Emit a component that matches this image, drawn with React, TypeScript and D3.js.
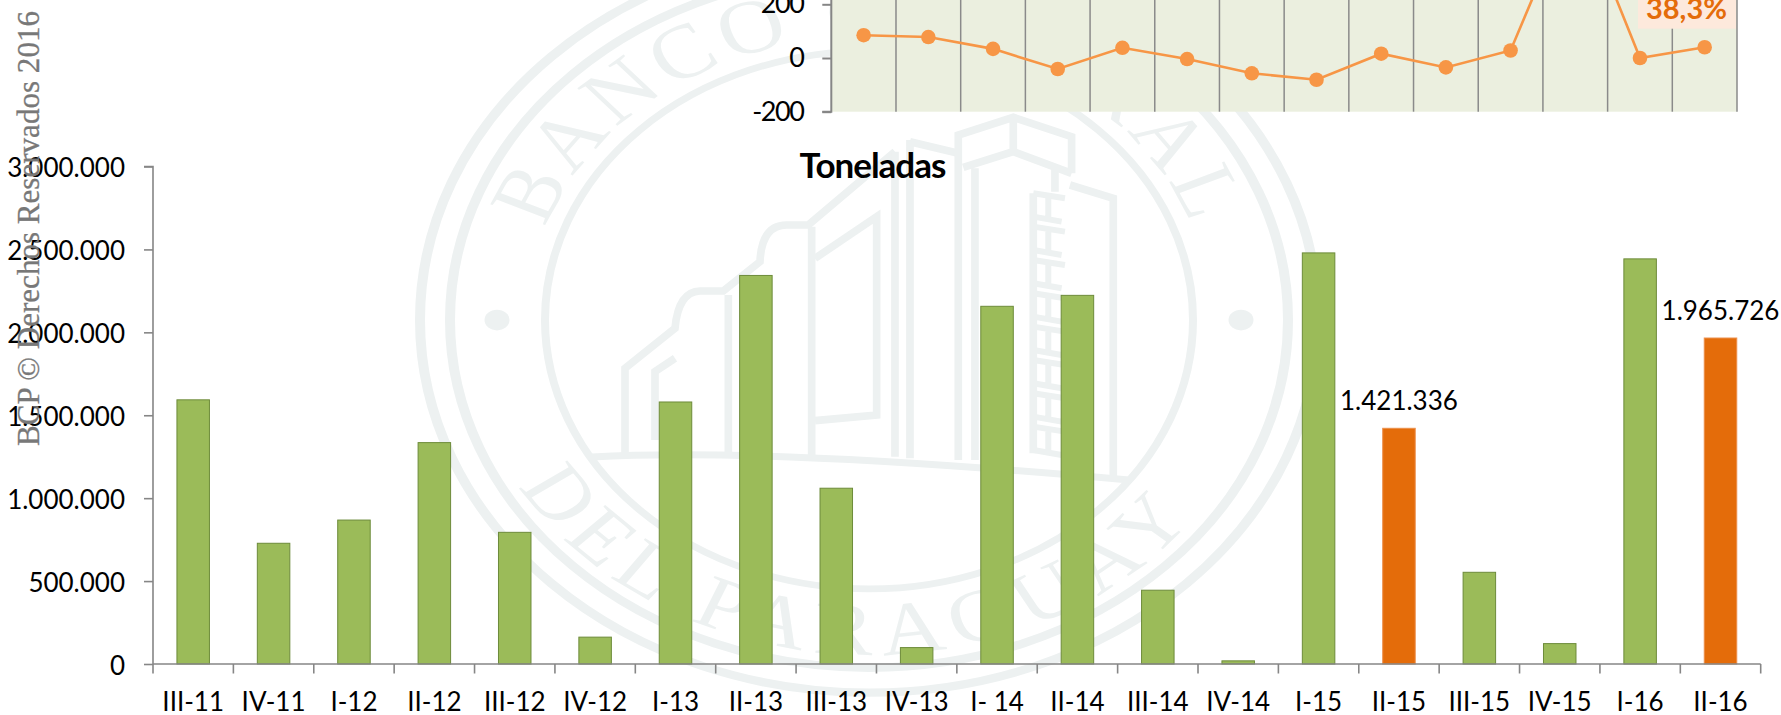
import React, { useEffect, useRef } from "react";
import * as d3 from "d3";

const quarters = ["III-11","IV-11","I-12","II-12","III-12","IV-12","I-13","II-13","III-13","IV-13","I- 14","II-14","III-14","IV-14","I-15","II-15","III-15","IV-15","I-16","II-16"];
const tons = [1593000,728000,868000,1335000,794000,162000,1580000,2343000,1060000,99000,2157000,2223000,445000,19000,2479000,1421336,553000,123000,2443000,1965726];
const highlighted = ["II-15","II-16"];
const tonTicks = [0,500000,1000000,1500000,2000000,2500000,3000000];
const variation = [85,78,34,-41,38,-4,-57,-81,16,-35,28,600,0,40];
const variationTicks = [-200,0,200];

const GREEN = "#9bbb59";
const ORANGE = "#e46c0a";
const LINE = "#f79646";
const AXIS = "#868686";
const SEAL = "#edf1f1";
const FONT = "Lato, sans-serif";

const py = d3.formatLocale({ decimal: ",", thousands: ".", grouping: [3], currency: ["", ""] }).format(",d");

// watermark drawn in a crop-sized grid, scaled down by the group transform
const buildingPaths = [
  "M75,1035V775L225,655Q235,545 300,543H370L480,455Q485,345 560,345H625L885,125",
  "M165,990V785L225,745",
  "M385,1035V555",
  "M635,1035V350",
  "M645,445L830,320V915L645,932",
  "M885,125V1040M930,90V1045M930,95L1075,130",
  "M1075,1050V75L1240,22L1415,80V190M1090,172L1240,125L1415,190M1125,175V1050M1240,20V125",
  "M1365,180V245M1410,225L1540,265V1100",
];
const stairSteps = [250,350,450,550,650,750,850,950];

const Seal = () => (
  <g>
    <g transform="translate(869,320) scale(1,0.83)" fill="none" stroke={SEAL}>
      <circle r={449} strokeWidth={10} />
      <circle r={419} strokeWidth={10} />
      <circle r={324} strokeWidth={8} />
      <path id="sealTop" d="M-342,0A342,342 0 0 1 342,0" stroke="none" />
      <path id="sealBottom" d="M-403,0A403,403 0 0 0 403,0" stroke="none" />
      <circle cx={-372} r={12.5} fill={SEAL} stroke="none" />
      <circle cx={372} r={12.5} fill={SEAL} stroke="none" />
      <text fontFamily="'Liberation Serif', serif" fontSize={92} letterSpacing={6} fill={SEAL} stroke="none" textAnchor="middle">
        <textPath href="#sealTop" startOffset="50%">BANCO CENTRAL</textPath>
      </text>
      <text fontFamily="'Liberation Serif', serif" fontSize={90} letterSpacing={11} fill={SEAL} stroke="none" textAnchor="middle">
        <textPath href="#sealBottom" startOffset="48.5%">DEL PARAGUAY</textPath>
      </text>
    </g>
    <path d="M592,457Q760,447 1129,480" fill="none" stroke={SEAL} strokeWidth={7} />
    <g transform="translate(600,110) scale(0.3333)" fill="none" stroke={SEAL} strokeWidth={23}>
      {buildingPaths.map((d, i) => <path key={i} d={d} />)}
      <path d="M1300,250V1030" />
      {stairSteps.map(s => (
        <path key={s} strokeWidth={18} d={`M1300,${s}L1395,${s + 15}M1300,${s + 70}L1385,${s + 85}M1345,${s + 15}V${s + 70}`} />
      ))}
    </g>
  </g>
);

const App = () => {
  const ref = useRef<SVGGElement>(null);

  useEffect(() => {
    const root = d3.select(ref.current);
    root.selectAll("*").remove();

    // line chart, cut by the top of the picture
    const xLine = d3.scaleBand<number>().domain(d3.range(variation.length)).range([831.3, 1737]);
    const yLine = d3.scaleLinear().domain([-200, 800]).range([111.7, -156.8]);
    const top = root.append("g");
    top.append("rect").attr("x", 831.3).attr("y", -2).attr("width", 905.7).attr("height", 113.7).attr("fill", "#ebefdf");
    top.selectAll("line.grid").data(d3.range(1, variation.length + 1)).enter().append("line")
      .attr("x1", d => 831.3 + d * xLine.step()).attr("x2", d => 831.3 + d * xLine.step())
      .attr("y1", 0).attr("y2", 111.7).attr("stroke", "#8a8a8a").attr("stroke-width", 1.5);
    top.append("rect").attr("x", 1638).attr("y", -2).attr("width", 98).attr("height", 30.7).attr("fill", "#fde9dc");
    const lineGen = d3.line<number>().x((_, i) => xLine(i)! + xLine.bandwidth() / 2).y(d => yLine(d));
    top.append("path").attr("d", lineGen(variation)).attr("fill", "none").attr("stroke", LINE).attr("stroke-width", 2.6);
    top.selectAll("circle").data(variation).enter().append("circle")
      .attr("cx", (_, i) => xLine(i)! + xLine.bandwidth() / 2).attr("cy", d => yLine(d)).attr("r", 7.3).attr("fill", LINE);
    top.append("text").attr("x", 1686.5).attr("y", 19).attr("text-anchor", "middle")
      .attr("font-family", FONT).attr("font-weight", 700).attr("font-size", 29).attr("fill", ORANGE).text("38,3%");
    const axLine = top.append("g").attr("transform", "translate(831.3,0)")
      .call(d3.axisLeft(yLine).tickValues(variationTicks).tickSize(9).tickPadding(19).tickFormat(d => String(d)));
    axLine.select(".domain").attr("d", "M-9,111.7H0V-2").attr("stroke", AXIS).attr("stroke-width", 2);
    axLine.selectAll(".tick line").attr("stroke", AXIS).attr("stroke-width", 2);
    axLine.selectAll("text").attr("font-family", FONT).attr("font-size", 27).attr("letter-spacing", -1.5).attr("fill", "#000");

    // bars
    const x = d3.scaleBand().domain(quarters).range([153, 1760.7]);
    const y = d3.scaleLinear().domain([0, 3000000]).range([664, 166.5]);
    const barW = 32.5;
    const chart = root.append("g");
    chart.selectAll("rect").data(quarters).enter().append("rect")
      .attr("x", d => x(d)! + (x.bandwidth() - barW) / 2)
      .attr("y", (_, i) => y(tons[i]))
      .attr("width", barW)
      .attr("height", (_, i) => y(0) - y(tons[i]))
      .attr("fill", d => highlighted.includes(d) ? ORANGE : GREEN)
      .attr("stroke", d => highlighted.includes(d) ? "#ec8f4a" : "#6d8b3a")
      .attr("stroke-width", 1);

    const axY = chart.append("g").attr("transform", "translate(153,0)")
      .call(d3.axisLeft(y).tickValues(tonTicks).tickSize(9).tickPadding(19).tickFormat(d => py(+d)));
    const axX = chart.append("g").attr("transform", "translate(0,664)")
      .call(d3.axisBottom(x).tickSize(0));
    axX.selectAll(".tick line").remove();
    axX.selectAll("line.edge").data(d3.range(quarters.length + 1)).enter().append("line")
      .attr("x1", d => 153 + d * x.step()).attr("x2", d => 153 + d * x.step())
      .attr("y1", 0).attr("y2", 9.5).attr("stroke", AXIS).attr("stroke-width", 1.6);
    axX.selectAll(".tick text").attr("y", 47).attr("dy", 0);
    [axY, axX].forEach(a => {
      a.select(".domain").attr("stroke", AXIS).attr("stroke-width", 1.6).attr("d", a === axY ? "M-9,166.5H0V664" : "M153,0H1760.7");
      a.selectAll(".tick line").attr("stroke", AXIS).attr("stroke-width", 1.6);
      a.selectAll("text").attr("font-family", FONT).attr("font-size", 26).attr("fill", "#000");
    });
    axY.selectAll("text").attr("dy", "0.4em");

    highlighted.forEach(q => {
      const v = tons[quarters.indexOf(q)];
      chart.append("text")
        .attr("x", x(q)! + x.bandwidth() / 2)
        .attr("y", y(v) - 18)
        .attr("text-anchor", "middle")
        .attr("font-family", FONT).attr("font-size", 26).attr("fill", "#000")
        .text(py(v));
    });
  }, []);

  return (
    <svg width={1781} height={715} style={{ position: "absolute", left: 0, top: 0, background: "#fff" }}>
      <Seal />
      <g ref={ref} />
      <text x={872.5} y={178} textAnchor="middle" fontFamily={FONT} fontWeight={700} fontSize={35} letterSpacing={-1}>Toneladas</text>
      <text transform="translate(39,446) rotate(-90)" fontFamily="'Liberation Serif', serif" fontSize={31} textLength={435} lengthAdjust="spacingAndGlyphs" fill="#787878" stroke="#787878" strokeWidth={0.3}>BCP © Derechos Reservados 2016</text>
    </svg>
  );
};

export default App;
